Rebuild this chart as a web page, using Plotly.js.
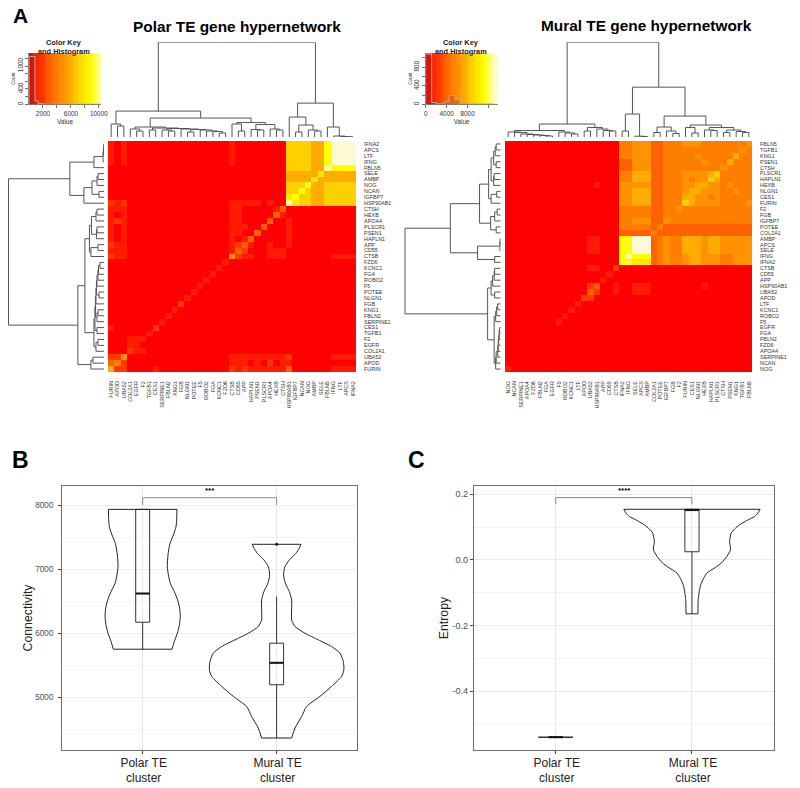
<!DOCTYPE html>
<html>
<head>
<meta charset="utf-8">
<script src="https://cdn.plot.ly/plotly-3.0.1.min.js"></script>
<style>html,body{margin:0;padding:0;background:#fff}#chart{width:800px;height:788px}</style>
</head>
<body>
<div id="chart"></div>
<script>
// ---------- DATA ----------
const polarGenes = ["FURIN","APOD","UBA52","COL2A1","EGFR","F2","TGFB1","CES1","SERPINE1","FBLN2","KNG1","FGB","NLGN1","POTEE","F5","ROBO2","FGA","KCNC1","FZD6","CTSB","CD55","APP","HAPLN1","PSEN1","PLSCR1","APOA4","HEXB","CTSH","HSP90AB1","IGFBP7","NCAN","NOG","AMBP","SELE","FBLN5","IFNG","LTF","APCS","IFNA2"];
const muralGenes = ["NOG","NCAN","SERPINE1","APOA4","FZD6","FBLN2","FGA","EGFR","F5","ROBO2","KCNC1","LTF","APOD","UBA52","HSP90AB1","APP","CD55","CTSB","IFNA2","IFNG","SELE","APCS","AMBP","COL2A1","POTEE","IGFBP7","FGB","F2","FURIN","CES1","NLGN1","HEXB","HAPLN1","PLSCR1","CTSH","PSEN1","KNG1","TGFB1","FBLN5"];

// Heat levels per cell (base-12 digits), rows listed from the top of the picture
const polarRows = [
"101 0000000000000000 100000000 7777669bbbb",
"101 0000000000000000 100000000 7777669bbbb",
"101 0000000000000000 100000000 7777669bbbb",
"101 0000000000000000 100000000 7777669bbbb",
"000 0000000000000000 000000000 777766a9999",
"000 0000000000000000 000000000 66666866666",
"000 0000000000000000 000000000 66668666666",
"000 0000000000000000 000000000 77796677777",
"000 0000000000000000 000000000 77976677777",
"000 0000000000000000 000000000 89776677777",
"212 0000000000000000 111110100 a8776677777",
"111 0000000000000000 110000013 00000000000",
"101 0000000000000000 110000031 00000000000",
"121 0000000000000000 110000300 10000000000",
"101 0000000000000000 111003000 10000000000",
"101 0000000000000000 110030000 10000000000",
"101 0000000000000000 101300000 10000000000",
"211 0000000000000000 123100100 10000000000",
"111 0000000000000000 132000111 00000000000",
"211 0000000000000000 521100111 00000001111",
"000 0000000000000001 000000000 00000000000",
"000 0000000000000010 000000000 00000000000",
"000 0000000000000100 000000000 00000000000",
"000 0000000000001000 000000000 00000000000",
"000 0000000000010000 000000000 00000000000",
"000 0000000000100000 000000000 00000000000",
"000 0000000001000000 000000000 00000000000",
"000 0000000020000000 000000000 00000000000",
"000 0000000100000000 000000000 00000000000",
"000 0000001000000000 000000000 00000000000",
"000 0000010000000000 000000000 00000000000",
"100 0000200000000000 000000000 00000000000",
"000 0001000000000000 000000000 00000000000",
"000 1110000000000000 000000000 00000000000",
"000 1100000000000000 000000000 00000000000",
"000 2110000000000000 000000000 00000000000",
"225 0000000000000000 111111111 20000001111",
"342 0000000000000000 111010201 10000000000",
"622 0000100000000000 212111111 30000001111"
];
const muralRows = [
"000000000000000000 44555 33 44455544444445",
"000000000000000000 44555 33 44444444444454",
"000000000000000000 44555 33 44444544444644",
"000000000000000000 33555 33 44444454446444",
"000000000000000000 33555 33 44444444454444",
"000000000000000000 44666 33 44455556744444",
"000000000000000000 44666 33 44454557644444",
"000000000000001000 55555 33 44455665545444",
"000000000000000000 55666 33 44456655544544",
"000000000000000000 55666 33 44466554544444",
"000000000000000000 55666 33 44476555544445",
"000000000000000000 44444 33 44544444444444",
"000000000000000000 44444 33 44444444444444",
"000000000000000000 44555 33 54444444444444",
"000000000000000000 44444 34 33333333333333",
"000000000000000000 33333 43 33333333333333",
"000000000000011000 99bbb 34 54466656655555",
"000000000000011000 99bbb 34 54466656655555",
"000000000000011000 99bbb 34 54466656655555",
"000000000000000000 9a999 34 54456655544555",
"000000000000000000 99888 34 54456655544555",
"000000000000011002 00000 00 00000000000000",
"000000000000000010 00000 00 00000000000000",
"000000000000000100 00000 00 00000000000000",
"000000000000023001 00111 00 00000010000000",
"000000000000032001 00111 00 00000000000000",
"000000000000220000 00000 00 00000000000000",
"000000000001000000 00000 00 00000000000000",
"000000000010000000 00000 00 00000000000000",
"000000000100000000 00000 00 00000000000000",
"000000001000000000 00000 00 00000000000000",
"000000000000000000 00000 00 00000000000000",
"000000000000000000 00000 00 00000000000000",
"000000000000000000 00000 00 00000000000000",
"000000000000000000 00000 00 00000000000000",
"000000000000000000 00000 00 00000000000000",
"000000000000000000 00000 00 00000000000000",
"000000000000000000 00000 00 00000000000000",
"100000000000000000 00000 00 00000000000000"
];
const polarUnit = 1000;
const muralUnit = 1250;
const heatColors = ["#ff0000","#ff1c00","#ff3a00","#ff6000","#ff7e00","#ff9200","#ffac00","#ffd000","#ffe800","#ffff00","#ffff99","#fdf9d5"];

// Dendrograms: [height, left, right]; a plain number is a leaf position
const polarTree = [95,
  [26,
    [13, 0, [11, 1, 2]],
    [19,
      [10,
        [8, 3, [6, 4, 5]],
        [9, [7, 6, 7],
            [8.5, [7, 8, [6, 9, 10]],
                  [8, 11, [7.5, [5, 12, 13], [7, 14, [6, 15, [5.5, 16, [4, 17, 18]]]]]]]]],
      [14.5,
        [13, 19, [6, 20, 21]],
        [12.5, [7.5, 22, [7, 23, 24]], [8, 25, [7, 26, 27]]]]]],
  [34,
    [20, 28, [12, [5, 29, 30], [7, 31, [6, 32, 33]]]],
    [10, 34, [1, 35, [0.5, 36, [0.3, 37, 38]]]]]];
const muralTree = [95,
  [13,
    [6.5,
      [5, 0, [4.5, 1, [3, 2, [2.5, 3, [2, 4, [1.5, 5, [1, 6, 7]]]]]]],
      [5, 8, [4, 9, [3, 10, 11]]]],
    [9.5, [6, 12, 13], [8, 14, [6.5, 15, [6, 16, 17]]]]],
  [50,
    [23, [6, 18, 19], [0.8, 20, [0.5, 21, 22]]],
    [21,
      [10, [4.5, 23, 24], [6, 25, [3.5, 26, 27]]],
      [12,
        [9.5, 28, [4, 29, 30]],
        [9.5, [7, 31, [6.5, 32, 33]], [7, [4.5, 34, 35], [5.5, 36, [4.5, 37, 38]]]]]]]];

// Colour keys
const polarKeyEdges = [0,500,1000,1500,2000,2500,3000,3500,4000,4500,5000,5500,6000,6500,7000,7500,8000,8500,9000,9500,10000,10500];
const polarKeyMid = [250,750,1250,1750,2250,2750,3250,3750,4250,4750,5250,5750,6250,6750,7250,7750,8250,8750,9250,9750,10250];
const muralKeyEdges = [0,650,1300,1950,2600,3250,3900,4550,5200,5850,6500,7150,7800,8450,9100,9750,10400,11050,11700,12350,13000,13750];
const muralKeyMid = [325,975,1625,2275,2925,3575,4225,4875,5525,6175,6825,7475,8125,8775,9425,10075,10725,11375,12025,12675,13375];
const polarHistX = [0,0,860,860,1300,1300,2000,2000,4000,5500,5500,6300,6300,8000,8000,8800,8800,10300];
const polarHistY = [0,1250,1250,85,85,20,20,6,2,2,8,8,2,2,6,6,2,2];
const muralHistX = [0,0,1140,1140,1970,1970,3560,3560,4510,4510,5590,5590,6540,6540,7490,7490,13000];
const muralHistY = [0,1085,1085,40,40,10,10,50,50,190,190,100,100,20,20,5,5];

// Violins (value levels and half-widths in axis units)
const bPolarY = [7932,7792,7662,7532,7403,7221,7039,6909,6779,6649,6519,6390,6260,6130,6000,5870,5750];
const bPolarW = [.256,.254,.249,.229,.204,.189,.184,.192,.206,.236,.261,.276,.281,.274,.259,.236,.219];
const bMuralY = [7387,7325,7247,7143,7039,6909,6779,6649,6519,6364,6208,6104,6000,5896,5792,5688,5558,5429,5325,5169,5013,4857,4701,4519,4364];
const bMuralW = [.182,.169,.144,.095,.062,.052,.065,.095,.112,.112,.112,.137,.211,.311,.41,.473,.498,.502,.485,.41,.323,.224,.187,.137,.112];
const cMuralY = [.1544,.1423,.1322,.12,.1068,.0937,.0815,.0562,.0309,.0106,-.0096,-.0248,-.04,-.0603,-.0805,-.121,-.1646];
const cMuralW = [.5,.483,.459,.402,.349,.312,.288,.276,.283,.256,.215,.166,.11,.08,.061,.046,.044];
const cPolarY = [-.541,-.541];
const cPolarW = [.127,.127];
// Boxes: q1, median, q3, lower fence, upper fence
const bPolarBox = [6171,6618,7932,5750,7932];
const bMuralBox = [5195,5538,5844,4364,6571];
const cPolarBox = [-.541,-.541,-.541,-.541,-.541];
const cMuralBox = [.0248,.152,.1544,-.1646,.1544];
const bOutlier = [7387];
const bBracket = [8000,8114,8114,8000];
const cBracket = [.1696,.19,.19,.1696];
const clusterTicks = ["Polar TE<br>cluster","Mural TE<br>cluster"];

// ---------- HELPERS ----------
const FONT = '"Liberation Sans", Arial, sans-serif';
const W = 800, H = 788;
const px = x => x / W;
const py = y => 1 - y / H;
const xdom = (a, b) => [px(a), px(b)];
const ydom = (top, bottom) => [py(bottom), py(top)];
const scale = heatColors.map((c, i) => [i / (heatColors.length - 1), c]);
const toZ = (rows, unit) => rows.slice().reverse().map(r => r.replace(/ /g, '').split('').map(c => parseInt(c, 12) * unit));
const idx = polarGenes.map((_, i) => i);

function dendroSegs(tree) {
  const a = [], h = [];
  function walk(n) {
    if (typeof n === 'number') return [n, 0];
    const L = walk(n[1]), R = walk(n[2]), t = n[0];
    a.push(L[0], L[0], R[0], R[0], null);
    h.push(L[1], t, t, R[1], null);
    return [(L[0] + R[0]) / 2, t];
  }
  walk(tree);
  return {a, h};
}
const dLine = {color: '#555', width: 1};
function dendroTraces(tree, xA, yTop, xLeft, yA) {
  const s = dendroSegs(tree);
  return [
    {type: 'scatter', mode: 'lines', x: s.a, y: s.h, xaxis: xA, yaxis: yTop, line: dLine, hoverinfo: 'skip', cliponaxis: false},
    {type: 'scatter', mode: 'lines', x: s.h, y: s.a, xaxis: xLeft, yaxis: yA, line: dLine, hoverinfo: 'skip', cliponaxis: false}
  ];
}
function violinTraces(c, ys, ws, xa, ya) {
  const n = ys.length;
  const sideX = [], sideY = [];
  ys.forEach((v, i) => { sideX.push(c - ws[i]); sideY.push(v); });
  sideX.push(null); sideY.push(null);
  ys.forEach((v, i) => { sideX.push(c + ws[i]); sideY.push(v); });
  const lineV = {color: '#222', width: 1};
  const flatX = [c - ws[0], c + ws[0], null, c - ws[n - 1], c + ws[n - 1]];
  const flatY = [ys[0], ys[0], null, ys[n - 1], ys[n - 1]];
  return [
    {type: 'scatter', mode: 'lines', x: sideX, y: sideY, xaxis: xa, yaxis: ya, line: {color: '#222', width: 1, shape: 'spline', smoothing: 0.6}, hoverinfo: 'skip'},
    {type: 'scatter', mode: 'lines', x: flatX, y: flatY, xaxis: xa, yaxis: ya, line: lineV, hoverinfo: 'skip'}
  ];
}
function boxTraces(c, b, xa, ya) {
  const bw = 0.104;
  return [
    {type: 'box', x: [c], q1: [b[0]], median: [b[1]], q3: [b[2]], lowerfence: [b[3]], upperfence: [b[4]], width: bw, whiskerwidth: 0, xaxis: xa, yaxis: ya, boxpoints: false, line: {color: '#333', width: 1}, fillcolor: 'rgba(255,255,255,0)', hoverinfo: 'skip'},
    {type: 'scatter', mode: 'lines', x: [c - bw / 2, c + bw / 2], y: [b[1], b[1]], xaxis: xa, yaxis: ya, line: {color: '#111', width: 2}, hoverinfo: 'skip'}
  ];
}

// ---------- TRACES ----------
const histFill = 'rgba(120,30,30,.25)';
const traces = [];
traces.push({type: 'heatmap', z: toZ(polarRows, polarUnit), x: idx, y: idx, xaxis: 'x', yaxis: 'y', colorscale: scale, zmin: 0, zmax: 11 * polarUnit, showscale: false, hoverinfo: 'skip'});
traces.push({type: 'heatmap', z: toZ(muralRows, muralUnit), x: idx, y: idx, xaxis: 'x4', yaxis: 'y4', colorscale: scale, zmin: 0, zmax: 11 * muralUnit, showscale: false, hoverinfo: 'skip'});
traces.push(...dendroTraces(polarTree, 'x', 'y2', 'x2', 'y'));
traces.push(...dendroTraces(muralTree, 'x4', 'y5', 'x5', 'y4'));
// colour keys
traces.push({type: 'heatmap', z: [polarKeyMid, polarKeyMid], x: polarKeyEdges, y: [0, 1340], xaxis: 'x3', yaxis: 'y3', colorscale: scale, zmin: 0, zmax: 11 * polarUnit, showscale: false, hoverinfo: 'skip'});
traces.push({type: 'scatter', mode: 'lines', x: polarHistX, y: polarHistY, xaxis: 'x3', yaxis: 'y3', line: {color: '#a8a8a8', width: 1.1}, fill: 'tozeroy', fillcolor: histFill, hoverinfo: 'skip'});
traces.push({type: 'heatmap', z: [muralKeyMid, muralKeyMid], x: muralKeyEdges, y: [0, 1103], xaxis: 'x6', yaxis: 'y6', colorscale: scale, zmin: 0, zmax: 11 * muralUnit, showscale: false, hoverinfo: 'skip'});
traces.push({type: 'scatter', mode: 'lines', x: muralHistX, y: muralHistY, xaxis: 'x6', yaxis: 'y6', line: {color: '#a8a8a8', width: 1.1}, fill: 'tozeroy', fillcolor: histFill, hoverinfo: 'skip'});
// violin panels
traces.push(...violinTraces(1, bPolarY, bPolarW, 'x7', 'y7'));
traces.push(...violinTraces(2, bMuralY, bMuralW, 'x7', 'y7'));
traces.push(...boxTraces(1, bPolarBox, 'x7', 'y7'));
traces.push(...boxTraces(2, bMuralBox, 'x7', 'y7'));
traces.push({type: 'scatter', mode: 'markers', x: [2], y: bOutlier, xaxis: 'x7', yaxis: 'y7', marker: {color: '#111', size: 3}, hoverinfo: 'skip'});
traces.push({type: 'scatter', mode: 'lines', x: [1, 1, 2, 2], y: bBracket, xaxis: 'x7', yaxis: 'y7', line: {color: '#888', width: 1}, hoverinfo: 'skip'});
traces.push(...violinTraces(1, cPolarY, cPolarW, 'x8', 'y8'));
traces.push(...violinTraces(2, cMuralY, cMuralW, 'x8', 'y8'));
traces.push(...boxTraces(1, cPolarBox, 'x8', 'y8'));
traces.push(...boxTraces(2, cMuralBox, 'x8', 'y8'));
traces.push({type: 'scatter', mode: 'lines', x: [1, 1, 2, 2], y: cBracket, xaxis: 'x8', yaxis: 'y8', line: {color: '#888', width: 1}, hoverinfo: 'skip'});

// ---------- AXES ----------
const geneFont = {family: FONT, size: 5.4, color: '#333'};
const hiddenAxis = (domain, range, extra) => Object.assign({domain, range, visible: false, fixedrange: true}, extra || {});
function heatX(domain, genes, anchor) {
  return {domain, range: [-0.5, 38.5], anchor, tickmode: 'array', tickvals: idx, ticktext: genes, tickangle: -90, tickfont: geneFont, ticks: 'outside', ticklen: 6, tickcolor: 'rgba(0,0,0,0)', showgrid: false, zeroline: false, showline: false};
}
function heatY(domain, genes, anchor) {
  return {domain, range: [-0.5, 38.5], anchor, side: 'right', tickmode: 'array', tickvals: idx, ticktext: genes, tickfont: geneFont, ticks: 'outside', ticklen: 6, tickcolor: 'rgba(0,0,0,0)', showgrid: false, zeroline: false, showline: false};
}
const keyFont = {family: FONT, size: 6.4, color: '#333'};
function keyX(domain, anchor, range, vals, text) {
  return {domain, anchor, range, tickmode: 'array', tickvals: vals, ticktext: text, tickfont: keyFont, tickangle: 0, ticks: 'outside', ticklen: 3, tickcolor: '#333', tickwidth: .7, showgrid: false, zeroline: false, showline: true, linecolor: '#555', linewidth: .7,
    title: {text: 'Value', font: {family: FONT, size: 6.4, color: '#333'}, standoff: 3}};
}
function keyY(domain, anchor, range, vals, text) {
  return {domain, anchor, range, tickmode: 'array', tickvals: vals, ticktext: text, tickfont: keyFont, tickangle: -90, ticks: 'outside', ticklen: 3, tickcolor: '#333', tickwidth: .7, showgrid: false, zeroline: false, showline: true, linecolor: '#555', linewidth: .7,
    title: {text: 'Count', font: {family: FONT, size: 4.6, color: '#333'}, standoff: 0}};
}
const vCat = {family: FONT, size: 12, color: '#222'};
const vTitle = {family: FONT, size: 12.3, color: '#222'};
const frame = {showline: true, mirror: true, linecolor: '#6e6e6e', linewidth: 1.2, zeroline: false};
function vX(domain, anchor) {
  return Object.assign({domain, anchor, range: [0.4, 2.6], tickmode: 'array', tickvals: [1, 2], ticktext: clusterTicks, tickfont: vCat, ticks: 'outside', ticklen: 3, tickcolor: '#444', ticklabelstandoff: -2, ticklabelshift: 1, showgrid: true, gridcolor: '#e8e8e8', gridwidth: 1}, frame);
}
function vY(domain, anchor, range, vals, text, minorVals, title, standoff, tickSize, labelGap) {
  return Object.assign({domain, anchor, range, tickmode: 'array', tickvals: vals, ticktext: text, tickfont: {family: FONT, size: tickSize, color: '#4d4d4d'}, ticks: 'outside', ticklen: 3, tickcolor: '#444', ticklabelstandoff: labelGap, showgrid: true, gridcolor: '#ececec', gridwidth: 1,
    minor: {tickmode: 'array', tickvals: minorVals, showgrid: true, gridcolor: '#f3f3f3', gridwidth: 1, ticks: ''},
    title: {text: title, font: vTitle, standoff}}, frame);
}

const ann = (x, y, text, size, bold, color) => ({xref: 'paper', yref: 'paper', x: px(x), y: py(y), text: bold ? '<b>' + text + '</b>' : text, showarrow: false, font: {family: FONT, size, color: color || '#000'}, xanchor: 'center', yanchor: 'middle'});

const layout = {
  width: W, height: H, margin: {l: 0, r: 0, t: 0, b: 0, pad: 0}, paper_bgcolor: '#fff', plot_bgcolor: 'rgba(0,0,0,0)', showlegend: false, boxmode: 'overlay',
  xaxis: heatX(xdom(108, 356), polarGenes, 'y'),
  yaxis: heatY(ydom(141, 372), polarGenes, 'x'),
  yaxis2: hiddenAxis(ydom(42.3, 137), [0, 95], {anchor: 'x'}),
  xaxis2: hiddenAxis(xdom(3.5, 104), [100, 0], {anchor: 'y'}),
  xaxis3: keyX(xdom(29, 101), 'y3', [0, 10300], [2000, 4000, 6000, 8000, 10000], ['2000', '', '6000', '', '10000']),
  yaxis3: keyY(ydom(53, 104.3), 'x3', [0, 1340], [0, 200, 400, 600, 800, 1000, 1200], ['0', '', '400', '', '', '1000', '']),
  xaxis4: heatX(xdom(505, 752), muralGenes, 'y4'),
  yaxis4: heatY(ydom(141, 372), muralGenes, 'x4'),
  yaxis5: hiddenAxis(ydom(42.3, 137), [0, 95], {anchor: 'x4'}),
  xaxis5: hiddenAxis(xdom(400, 500.7), [100, 0], {anchor: 'y4'}),
  xaxis6: keyX(xdom(425.7, 497.7), 'y6', [0, 13750], [0, 4000, 8000, 12000], ['0', '4000', '8000', '']),
  yaxis6: keyY(ydom(53, 104.3), 'x6', [0, 1103], [0, 200, 400, 600, 800, 1000], ['0', '', '400', '', '800', '']),
  xaxis7: vX(xdom(62.3, 357), 'y7'),
  yaxis7: vY(ydom(486, 750), 'x7', [4177, 8297], [5000, 6000, 7000, 8000], ['5000', '6000', '7000', '8000'], [4500, 5500, 6500, 7500], 'Connectivity', 0, 8.2, 3),
  xaxis8: vX(xdom(474, 773.7), 'y8'),
  yaxis8: vY(ydom(486, 750), 'x8', [-0.58, 0.2254], [-0.4, -0.2, 0, 0.2], ['-0.4', '-0.2', '0.0', '0.2'], [-0.5, -0.3, -0.1, 0.1], 'Entropy', 1, 9, 0),
  annotations: [
    ann(20, 16, 'A', 21, true), ann(20, 460, 'B', 23, true), ann(416, 460, 'C', 23, true),
    ann(237, 26, 'Polar TE gene hypernetwork', 15.4, true), ann(646, 25, 'Mural TE gene hypernetwork', 15.4, true),
    ann(64, 42.5, 'Color Key', 7.4, true, '#222'), ann(64, 51, 'and Histogram', 7.4, true, '#222'),
    ann(460.5, 42.5, 'Color Key', 7.4, true, '#222'), ann(461, 51, 'and Histogram', 7.4, true, '#222'),
    ann(209.5, 490, '***', 8, true), ann(624, 490, '****', 8, true)
  ]
};
Plotly.newPlot('chart', traces, layout, {staticPlot: true, displayModeBar: false});
</script>
</body>
</html>
